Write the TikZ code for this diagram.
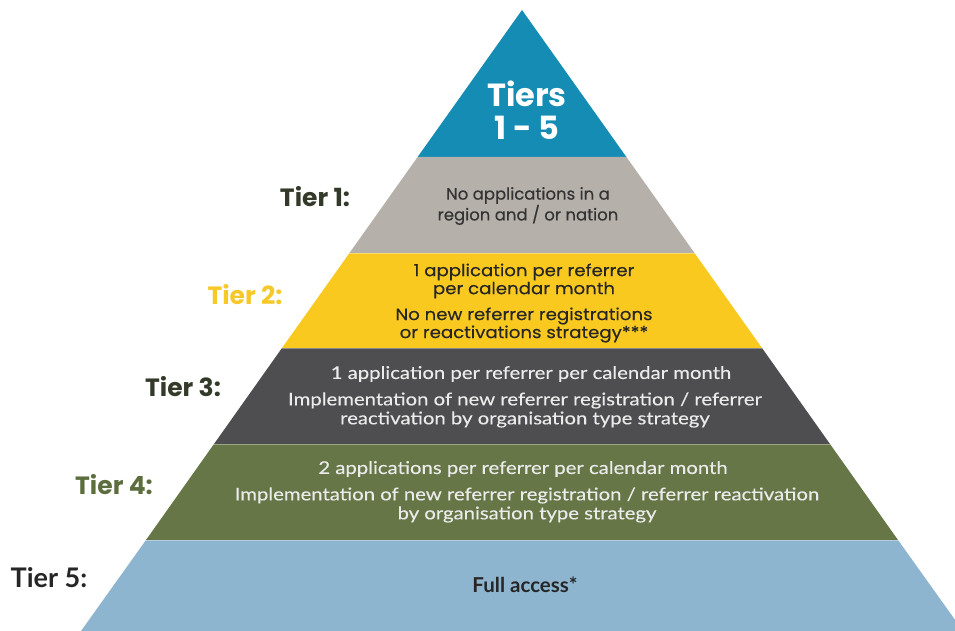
\documentclass[tikz,border=0pt]{standalone}
\usepackage{fontspec}
\setmainfont{Poppins}
\newfontfamily\lato{Lato}
\newfontfamily\latowide{Lato}[FakeStretch=1.16,FakeBold=0.2]
\newfontfamily\popmed{Poppins}[FakeBold=0.35]
\newfontfamily\popwide{Poppins}[FakeStretch=1.1,FakeBold=0.35]
\definecolor{tierblue}{RGB}{20,140,180}
\definecolor{tiergray}{RGB}{181,176,170}
\definecolor{tieryellow}{RGB}{250,201,32}
\definecolor{tierdark}{RGB}{78,77,80}
\definecolor{tiergreen}{RGB}{102,118,70}
\definecolor{tierlight}{RGB}{141,181,207}
\definecolor{labdark}{RGB}{52,58,42}
\definecolor{labyellow}{RGB}{246,200,40}
\definecolor{labgreen}{RGB}{92,110,62}
\begin{document}
\begin{tikzpicture}[x=1pt,y=-1pt,
  seam/.style={white,opacity=0.35,line width=1pt},
  tierlabel/.style={font=\fontsize{25}{28}\selectfont\bfseries,anchor=center,inner sep=0pt},
  bandtext/.style={align=center,anchor=center,inner sep=0pt},
  popt/.style={font=\popmed\fontsize{16.5}{19}\selectfont},
  popw/.style={font=\popwide\fontsize{16.5}{18}\selectfont},
  latot/.style={font=\latowide\fontsize{17.5}{19}\selectfont}]
\useasboundingbox (0,0) rectangle (955,631);
% pyramid bands, apex at (522,10), half width 0.71 per unit of height
\fill[tierblue]  (522,10) -- (626.4,157) -- (417.6,157) -- cycle;
\fill[tiergray]  (417.6,157) -- (626.4,157) -- (694.5,253) -- (349.5,253) -- cycle;
\fill[tieryellow](349.5,253) -- (694.5,253) -- (762,348) -- (282,348) -- cycle;
\fill[tierdark]  (282,348) -- (762,348) -- (830,444) -- (214,444) -- cycle;
\fill[tiergreen] (214,444) -- (830,444) -- (898,540) -- (146,540) -- cycle;
\fill[tierlight] (146,540) -- (898,540) -- (963,631) -- (81,631) -- cycle;
% light seams between bands
\draw[seam] (349.5,253) -- (694.5,253);
\draw[seam] (282,348) -- (762,348);
\draw[seam] (214,444) -- (830,444);
\draw[seam] (146,540) -- (898,540);
% apex title
\node[bandtext,white,font=\fontsize{32}{33}\selectfont\bfseries] (title) at (527,110) {Tiers\\1 - 5};
% tier labels
\node[tierlabel,labdark]   (l1) at (315,197) {Tier 1:};
\node[tierlabel,labyellow] (l2) at (245,295) {Tier 2:};
\node[tierlabel,labdark]   (l3) at (183,387) {Tier 3:};
\node[tierlabel,labgreen]  (l4) at (114,485) {Tier 4:};
\node[tierlabel,black!85,font=\lato\fontsize{27}{30}\selectfont\bfseries] (l5) at (49,578) {Tier 5:};
% band texts
\node[bandtext,popt,black!80] (t1) at (528,206) {No applications in a\\region and / or nation};
\node[bandtext,popw,black!85] (t2a) at (524,281) {1 application per referrer\\per calendar month};
\node[bandtext,popw,black!85] (t2b) at (524,325) {No new referrer registrations\\or reactivations strategy***};
\node[bandtext,latot,white!92!black] (t3a) at (531,374) {1 application per referrer per calendar month};
\node[bandtext,latot,white!92!black] (t3b) at (525,410) {Implementation of new referrer registration / referrer\\reactivation by organisation type strategy};
\node[bandtext,latot,white!92!black] (t4a) at (523,469) {2 applications per referrer per calendar month};
\node[bandtext,latot,white!92!black] (t4b) at (527,505) {Implementation of new referrer registration / referrer reactivation\\by organisation type strategy};
\node[bandtext,black!85,font=\lato\fontsize{20.5}{22}\selectfont\bfseries] (t5) at (525,585) {Full access*};
\end{tikzpicture}
\end{document}
